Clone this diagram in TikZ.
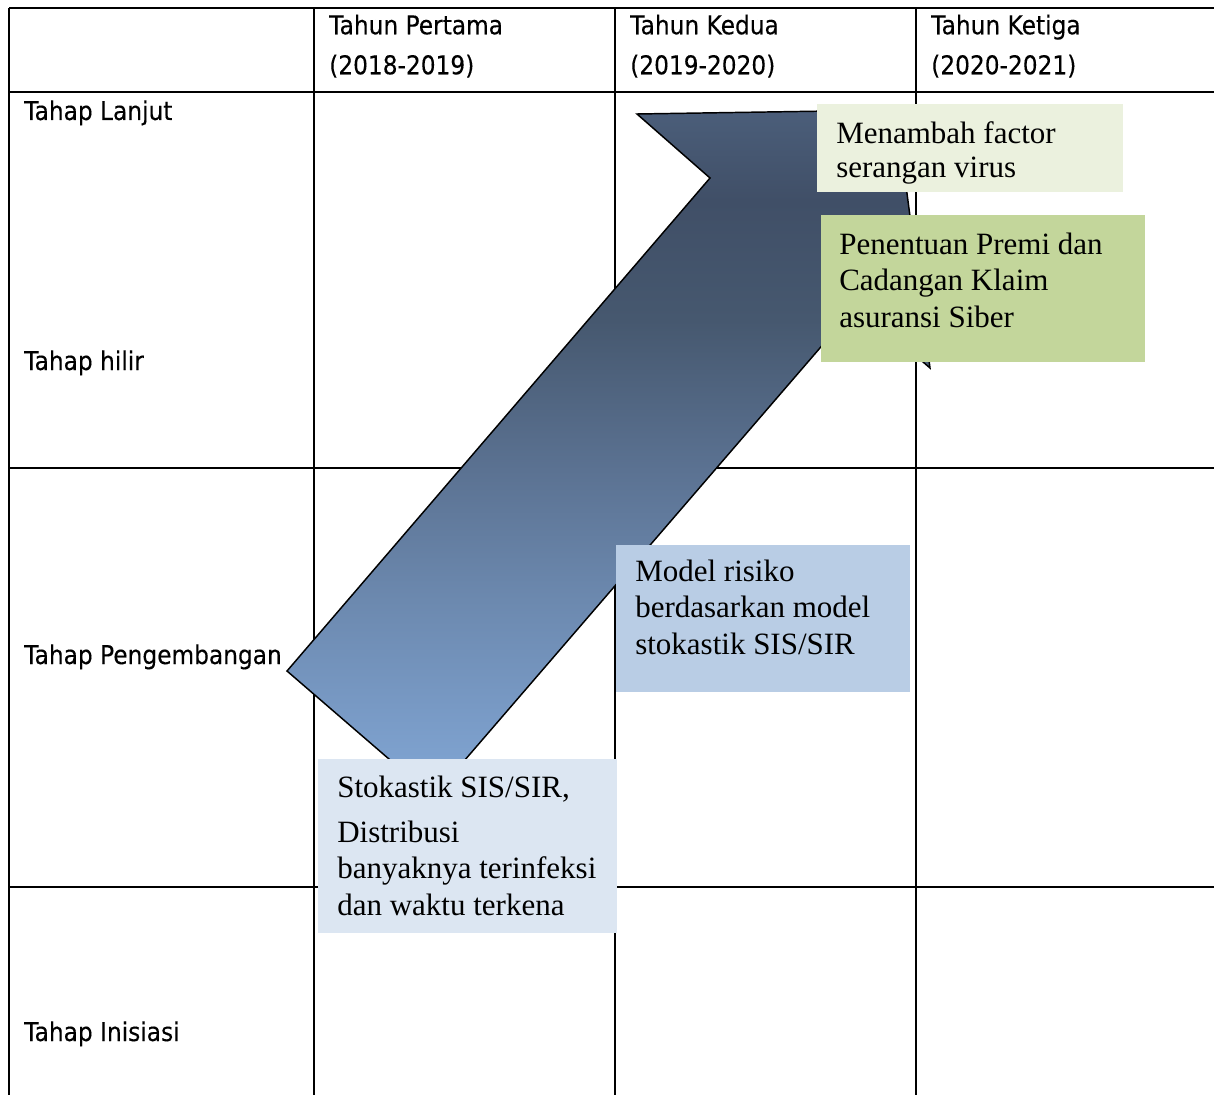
\documentclass[tikz,border=0pt]{standalone}
\usepackage{fontspec}
\setmainfont{Liberation Serif}
\newfontfamily\tabfont{DejaVu Sans}[FakeStretch=0.90,FakeBold=0.25]
\definecolor{boxA}{HTML}{EBF1DE}
\definecolor{boxB}{HTML}{C3D69B}
\definecolor{boxC}{HTML}{B9CDE5}
\definecolor{boxD}{HTML}{DCE6F2}
\definecolor{arrA}{HTML}{4B5E7A}
\definecolor{arrB}{HTML}{404F67}
\definecolor{arrC}{HTML}{46586F}
\definecolor{arrD}{HTML}{5B7292}
\definecolor{arrE}{HTML}{6C89AF}
\definecolor{arrF}{HTML}{82A7D6}
\pgfdeclareverticalshading{arrowshade}{100bp}{color(0bp)=(arrF); color(25bp)=(arrF); color(39.3bp)=(arrE); color(48.8bp)=(arrD); color(59.7bp)=(arrC); color(68.4bp)=(arrB); color(75bp)=(arrA); color(100bp)=(arrA)}
\begin{document}
\begin{tikzpicture}[x=0.75pt,y=-0.75pt,
  grid/.style={line width=2pt, black},
  lbl/.style={font=\tabfont\fontsize{19.4}{30}\selectfont, anchor=base west, inner sep=0pt},
  hdr/.style={font=\tabfont\fontsize{19.4}{30}\selectfont, anchor=north west, inner sep=0pt, align=left},
  panel/.style={anchor=north west, inner sep=0pt, draw=none},
  txt/.style={anchor=north west, inner sep=0pt, align=left, text=black},
  bigarrow/.style={draw=black, line width=1.1pt, line join=miter, shading=arrowshade}
]
\useasboundingbox (0,0) rectangle (1214,1095);
% table grid
\draw[grid] (9,8) -- (1214,8);
\draw[grid] (9,92) -- (1214,92);
\draw[grid] (9,468) -- (1214,468);
\draw[grid] (9,887) -- (1214,887);
\draw[grid] (9,8) -- (9,1095);
\draw[grid] (314,8) -- (314,1095);
\draw[grid] (615,8) -- (615,1095);
\draw[grid] (916,8) -- (916,1095);
% header texts
\node[hdr] (h1) at (329,6) {\strut Tahun Pertama\\(2018-2019)};
\node[hdr] (h2) at (630,6) {\strut Tahun Kedua\\(2019-2020)};
\node[hdr] (h3) at (931,6) {\strut Tahun Ketiga\\(2020-2021)};
% row labels
\node[lbl] (l1) at (24,120) {Tahap Lanjut};
\node[lbl] (l2) at (24,370) {Tahap hilir};
\node[lbl] (l3) at (24,664) {Tahap Pengembangan};
\node[lbl] (l4) at (24,1041) {Tahap Inisiasi};
% big arrow
\path[bigarrow] (287,671) -- (710,178) -- (637,114) -- (896,110) -- (930,368) -- (857,305) -- (433,797) -- cycle;
% boxes
\node[panel, fill=boxA, minimum width=229.5pt, minimum height=66pt] (b1) at (817,104) {};
\node[panel, fill=boxB, minimum width=243pt, minimum height=110.25pt] (b2) at (821,215) {};
\node[panel, fill=boxC, minimum width=220.5pt, minimum height=110.25pt] (b3) at (616,545) {};
\node[panel, fill=boxD, minimum width=224.25pt, minimum height=130.5pt] (b4) at (318,759) {};
% box texts
\node[txt, font=\fontsize{23.25}{25.5}\selectfont] (t1) at (836,119.2) {\strut Menambah factor\\serangan virus};
\node[txt, font=\fontsize{23.25}{27.4}\selectfont] (t2) at (839,228.4) {\strut Penentuan Premi dan\\Cadangan Klaim\\asuransi Siber};
\node[txt, font=\fontsize{23.25}{27.4}\selectfont] (t3) at (635,555.4) {\strut Model risiko\\berdasarkan model\\stokastik SIS/SIR};
\node[txt, font=\fontsize{23.25}{27.4}\selectfont] (t4) at (337,771.4) {\strut Stokastik SIS/SIR,\\[6.4pt]Distribusi\\banyaknya terinfeksi\\dan waktu terkena};
\end{tikzpicture}
\end{document}
